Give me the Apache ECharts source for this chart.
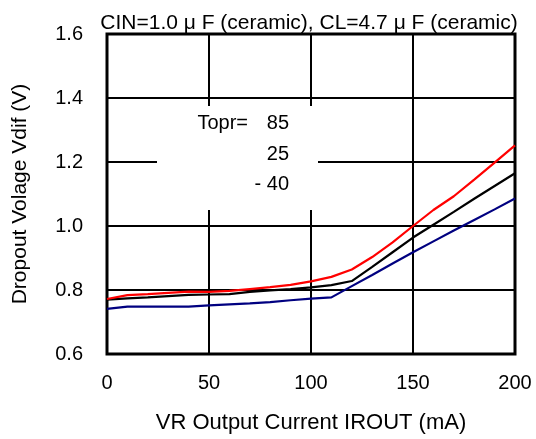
<!DOCTYPE html>
<html>
<head>
<meta charset="utf-8">
<script src="https://cdn.jsdelivr.net/npm/echarts@6/dist/echarts.min.js"></script>
<style>html,body{margin:0;padding:0;background:#fff}#c{width:536px;height:439px}</style>
</head>
<body>
<div id="c"></div>
<script>
const current = [0, 10, 20, 30, 40, 50, 60, 70, 80, 90, 100, 110, 120, 130, 140, 150, 160, 170, 180, 190, 200];
const vdif85 = [0.772, 0.784, 0.787, 0.791, 0.795, 0.794, 0.797, 0.803, 0.809, 0.816, 0.827, 0.841, 0.864, 0.903, 0.949, 1.000, 1.050, 1.093, 1.145, 1.198, 1.252];
const vdif25 = [0.770, 0.774, 0.777, 0.781, 0.785, 0.786, 0.787, 0.794, 0.799, 0.803, 0.808, 0.815, 0.828, 0.872, 0.918, 0.964, 1.004, 1.044, 1.085, 1.125, 1.165];
const vdifM40 = [0.741, 0.748, 0.748, 0.748, 0.748, 0.752, 0.755, 0.758, 0.762, 0.768, 0.773, 0.777, 0.812, 0.847, 0.883, 0.918, 0.952, 0.986, 1.019, 1.052, 1.086];
const legendLabels = ['Topr=', '85', '25', '- 40'];
const titleText = 'CIN=1.0 \u03bc F (ceramic), CL=4.7 \u03bc F (ceramic)';
const xName = 'VR Output Current IROUT (mA)';
const yName = 'Dropout Volage Vdif (V)';

const font = 'Liberation Sans, Arial, sans-serif';
const chart = echarts.init(document.getElementById('c'), null, {renderer: 'canvas'});
const pair = arr => current.map((x, i) => [x, arr[i]]);
chart.setOption({
  animation: false,
  backgroundColor: '#fff',
  title: {
    text: titleText, left: 304, top: 8, textAlign: 'center',
    textStyle: {fontFamily: font, fontSize: 21, fontWeight: 'normal', color: '#000'}
  },
  grid: {left: 107, right: 21, top: 34, bottom: 81, show: true, borderColor: '#000', borderWidth: 3, backgroundColor: 'transparent'},
  xAxis: {
    type: 'value', min: 0, max: 200, interval: 50,
    name: xName, nameLocation: 'middle', nameGap: 58,
    nameTextStyle: {fontFamily: font, fontSize: 22, color: '#000'},
    axisLine: {show: false}, axisTick: {show: false},
    axisLabel: {fontFamily: font, fontSize: 20, color: '#000', margin: 19},
    splitLine: {show: true, lineStyle: {color: '#000', width: 2}}
  },
  yAxis: {
    type: 'value', min: 0.6, max: 1.6, interval: 0.2,
    name: yName, nameLocation: 'middle', nameGap: 76,
    nameTextStyle: {fontFamily: font, fontSize: 21, color: '#000'},
    axisLine: {show: false}, axisTick: {show: false},
    axisLabel: {fontFamily: font, fontSize: 20, color: '#000', margin: 24, formatter: v => v.toFixed(1)},
    splitLine: {show: true, lineStyle: {color: '#000', width: 2}}
  },
  series: [
    {type: 'line', data: pair(vdif85), showSymbol: false, lineStyle: {color: '#ff0000', width: 2.2}, z: 5},
    {type: 'line', data: pair(vdif25), showSymbol: false, lineStyle: {color: '#000000', width: 2.2}, z: 4},
    {type: 'line', data: pair(vdifM40), showSymbol: false, lineStyle: {color: '#000080', width: 2.2}, z: 3}
  ],
  graphic: [
    {type: 'rect', z: 50, shape: {x: 157, y: 106, width: 161, height: 104}, style: {fill: '#fff'}},
    {type: 'text', z: 51, x: 248, y: 123, style: {text: legendLabels[0], font: '20px ' + font, fill: '#000', textAlign: 'right', textVerticalAlign: 'middle'}},
    {type: 'text', z: 51, x: 289, y: 123, style: {text: legendLabels[1], font: '20px ' + font, fill: '#000', textAlign: 'right', textVerticalAlign: 'middle'}},
    {type: 'text', z: 51, x: 289, y: 154, style: {text: legendLabels[2], font: '20px ' + font, fill: '#000', textAlign: 'right', textVerticalAlign: 'middle'}},
    {type: 'text', z: 51, x: 289, y: 184, style: {text: legendLabels[3], font: '20px ' + font, fill: '#000', textAlign: 'right', textVerticalAlign: 'middle'}}
  ]
});
</script>
</body>
</html>
